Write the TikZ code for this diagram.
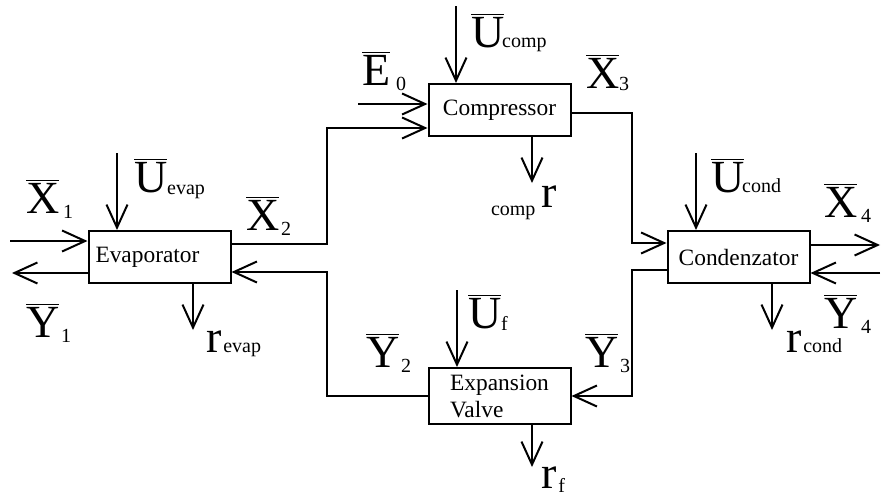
\documentclass[tikz,border=0pt]{standalone}
\usepackage{fontspec}
\setmainfont{Liberation Serif}
\usetikzlibrary{arrows.meta,positioning}
\newcommand{\subf}{\fontsize{10}{10}\selectfont}
\newcommand{\bigf}{\fontsize{23}{23}\selectfont}

\begin{document}
\begin{tikzpicture}[x=0.5pt,y=-0.5pt,line width=1pt,>={Straight Barb[length=11.5pt,width=10.5pt]}]
\tikzstyle{blk}=[draw,align=center,minimum width=71pt,minimum height=26pt,font=\fontsize{11.7}{13.5}\selectfont]
\tikzstyle{lbl}=[anchor=base west,inner sep=0pt,font=\bigf]
\useasboundingbox (0,0) rectangle (882,498);
\node[blk,text width=64pt,align=left,inner xsep=3.5pt] (evap) at (159.5,257) {Evaporator};
\node[blk,above right=46.5pt and 98pt of evap] (comp) {Compressor};
\node[blk,right=217.5pt of evap] (cond) {Condenzator};
\node[blk,align=left,below=115pt of comp] (valve) {Expansion\\Valve};
% free ends and bends
\coordinate (x1) at (10,241);
\coordinate (y1) at (12,273);
\coordinate (uev) at (117,153);
\coordinate (rev) at (193,330);
\coordinate (x2a) at (327,244);
\coordinate (x2b) at (327,128);
\coordinate (e0) at (358,104);
\coordinate (ucp) at (456,6);
\coordinate (rcp) at (532,183);
\coordinate (x3a) at (632,113);
\coordinate (x3b) at (632,243);
\coordinate (ucd) at (696,153);
\coordinate (rcd) at (772,330);
\coordinate (x4) at (880,245);
\coordinate (y4) at (880,273);
\coordinate (y3a) at (632,270);
\coordinate (y3b) at (632,396);
\coordinate (y2a) at (327,396);
\coordinate (y2b) at (327,272);
\coordinate (uf) at (457,290);
\coordinate (rf) at (532,467);
\draw[->] (x1) -- (x1 -| evap.west);
\draw[->] (y1 -| evap.west) -- (y1);
\draw[->] (uev) -- (uev |- evap.north);
\draw[->] (rev |- evap.south) -- (rev);
\draw[->] (x2a -| evap.east) -- (x2a) -- (x2b) -- (x2b -| comp.west);
\draw[->] (e0) -- (e0 -| comp.west);
\draw[->] (ucp) -- (ucp |- comp.north);
\draw[->] (rcp |- comp.south) -- (rcp);
\draw[->] (x3a -| comp.east) -- (x3a) -- (x3b) -- (x3b -| cond.west);
\draw[->] (ucd) -- (ucd |- cond.north);
\draw[->] (rcd |- cond.south) -- (rcd);
\draw[->] (x4 -| cond.east) -- (x4);
\draw[->] (y4) -- (y4 -| cond.east);
\draw[->] (y3a -| cond.west) -- (y3a) -- (y3b) -- (y3b -| valve.east);
\draw[->] (uf) -- (uf |- valve.north);
\draw[->] (rf |- valve.south) -- (rf);
\draw[->] (y2a -| valve.west) -- (y2a) -- (y2b) -- (y2b -| evap.east);
% labels
\node[lbl] (lx1) at (25,213) {$\overline{\mbox{X}}$\kern2pt\raisebox{-2.5pt}{\subf 1}};
\node[lbl] (luev) at (133,192) {$\overline{\mbox{U}}$\raisebox{-1pt}{\subf evap}};
\node[lbl] (ly1) at (25,337) {$\overline{\mbox{Y}}$\kern1pt\raisebox{-2.5pt}{\subf 1}};
\node[lbl] (lrev) at (205,352) {r\kern1pt{\subf evap}};
\node[lbl] (lx2) at (245,230) {$\overline{\mbox{X}}$\kern1pt\raisebox{-2.5pt}{\subf 2}};
\node[lbl] (le0) at (361,85) {$\overline{\mbox{E}}$\kern3pt\raisebox{-2.5pt}{\subf 0}};
\node[lbl] (lucp) at (470,47) {$\overline{\mbox{U}}$\kern-1pt{\subf comp}};
\node[lbl] (lx3) at (585,88) {$\overline{\mbox{X}}$\raisebox{-1pt}{\subf 3}};
\node[lbl] (lrcp) at (490,207) {\raisebox{-4pt}{\subf comp}\kern3pt r};
\node[lbl] (lucd) at (710,192) {$\overline{\mbox{U}}$\kern-1pt{\subf cond}};
\node[lbl] (lx4) at (823,217) {$\overline{\mbox{X}}$\kern2pt\raisebox{-2.5pt}{\subf 4}};
\node[lbl] (ly4) at (823,328) {$\overline{\mbox{Y}}$\kern2pt\raisebox{-2.5pt}{\subf 4}};
\node[lbl] (lrcd) at (785,352) {r\kern1pt{\subf cond}};
\node[lbl] (ly3) at (584,367) {$\overline{\mbox{Y}}$\kern1pt\raisebox{-2.5pt}{\subf 3}};
\node[lbl] (ly2) at (365,367) {$\overline{\mbox{Y}}$\kern1pt\raisebox{-2.5pt}{\subf 2}};
\node[lbl] (luf) at (467,328) {$\overline{\mbox{U}}$\raisebox{-1pt}{\subf f}};
\node[lbl] (lrf) at (540,488) {r\kern1pt\raisebox{-2pt}{\subf f}};
\end{tikzpicture}
\end{document}
